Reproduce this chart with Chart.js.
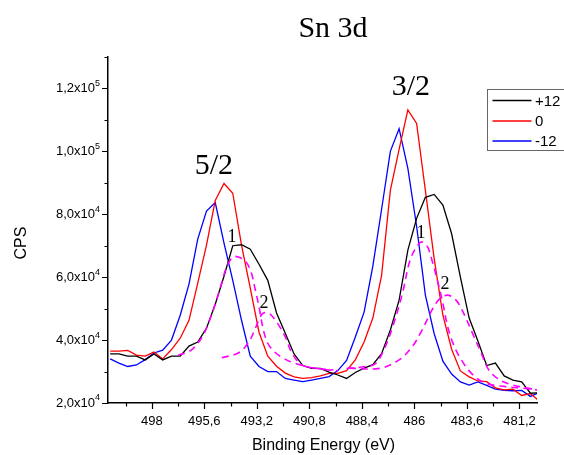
<!DOCTYPE html>
<html>
<head>
<meta charset="utf-8">
<title>Sn 3d</title>
<script src="https://cdn.jsdelivr.net/npm/chart.js@4.4.0/dist/chart.umd.min.js"></script>
<style>
  html, body { margin: 0; padding: 0; background: #fff; }
  #wrap { width: 564px; height: 455px; }
</style>
</head>
<body>
<div id="wrap"><canvas id="xps" width="564" height="455"></canvas></div>
<script>
// binding energies (eV) of the measured points
const energies = [499.9, 499.5, 499.1, 498.7, 498.3, 497.9, 497.5, 497.1, 496.7, 496.3,
  495.9, 495.5, 495.1, 494.7, 494.3, 493.9, 493.5, 493.1, 492.7, 492.3,
  491.9, 491.5, 491.1, 490.7, 490.3, 489.9, 489.5, 489.1, 488.7, 488.3,
  487.9, 487.5, 487.1, 486.7, 486.3, 485.9, 485.5, 485.1, 484.7, 484.3,
  483.9, 483.5, 483.1, 482.7, 482.3, 481.9, 481.5, 481.1, 480.7, 480.3]

// counts per second for each sample
const plus12 = [35600, 35600, 34900, 34900, 33700, 35600, 33700, 34900, 34900, 38100,
  39400, 43800, 51400, 60300, 70000, 70300, 68900, 64100, 59000, 48600,
  42200, 35600, 31900, 31000, 31000, 29800, 28900, 27800, 29700, 31100,
  32200, 35700, 43200, 52700, 68600, 78700, 85400, 86300, 82900, 73800,
  60000, 47000, 39700, 31900, 32700, 28600, 27300, 26700, 23100, 23300]
const zero = [36500, 36500, 36700, 35200, 34900, 36200, 34000, 37000, 40600, 46300,
  58100, 70200, 84400, 89800, 86700, 70200, 56500, 42500, 34900, 31700,
  29500, 28300, 27800, 28100, 28600, 29400, 29400, 30300, 33700, 39400,
  47000, 60600, 87600, 100600, 113200, 108900, 87600, 66000, 47900, 37100,
  30200, 28300, 27000, 26800, 24800, 24200, 24400, 22400, 23000, 20600]
const minus12 = [34000, 32700, 31600, 32100, 33800, 35900, 36800, 40000, 47900, 57800,
  72100, 81000, 83700, 70800, 59000, 46300, 34900, 31600, 30000, 30000,
  27800, 27300, 26800, 27300, 27800, 28400, 30300, 33500, 41000, 48900,
  63500, 81600, 100000, 107200, 94600, 76200, 54300, 42100, 33300, 29200,
  26700, 25700, 26700, 25600, 24400, 24000, 23900, 24000, 22100, 23300]

// fitted components of the +12 spectrum (3d5/2 and 3d3/2, peaks 1 and 2)
const fit52pk1E = [496.8, 496.2, 495.7, 495.3, 494.9, 494.6, 494.3, 494.05, 493.7, 493.45,
  493.3, 493.1, 492.9, 492.7, 492.4, 492.0, 491.5, 490.6, 489.7]
const fit52pk1Y = [35200, 36800, 41000, 47400, 55900, 62900, 66400, 66400, 64900, 61300,
  56900, 50600, 43200, 39000, 36300, 34300, 32700, 31100, 30500]
const fit52pk2E = [494.8, 494.05, 493.6, 493.3, 493.05, 492.9, 492.65, 492.3, 491.9, 491.6,
  491.15, 490.55, 489.9, 489.5]
const fit52pk2Y = [34400, 35900, 39000, 43200, 47300, 48600, 48600, 45800, 41000, 35900,
  32100, 31100, 30500, 30300]
const fit32pk1E = [489.1, 488.3, 487.8, 487.4, 487.0, 486.55, 486.2, 485.85, 485.65, 485.4,
  485.2, 484.95, 484.7, 484.5, 484.25, 483.9, 483.35, 482.75, 481.85, 481.2, 480.3]
const fit32pk1Y = [31000, 31500, 32400, 36800, 44100, 54800, 65400, 70200, 71200, 69600,
  65400, 59000, 51700, 44800, 39200, 34200, 29100, 26300, 25200, 24800, 24100]
const fit32pk2E = [489.0, 487.6, 486.7, 486.1, 485.65, 485.2, 484.9, 484.5, 484.1, 483.75,
  483.35, 482.95, 482.6, 482.1, 481.5, 480.9, 480.3]
const fit32pk2Y = [31100, 31000, 33700, 37900, 43200, 49500, 52700, 54300, 52700, 48500,
  42200, 35900, 30500, 27300, 25700, 24800, 24100]

const seriesNames = ['+12', '0', '-12']

// axis ticks
const xMajor = [498, 495.6, 493.2, 490.8, 488.4, 486, 483.6, 481.2]
const xMinor = [499.2, 496.8, 494.4, 492, 489.6, 487.2, 484.8, 482.4]
const yMajor = [20000, 40000, 60000, 80000, 100000, 120000]
const yMinor = [30000, 50000, 70000, 90000, 110000, 130000]
const yMantissa = ['2,0', '4,0', '6,0', '8,0', '1,0', '1,2']
const yExponent = ['4', '4', '4', '4', '5', '5']

const SANS = '"Liberation Sans", Arial, sans-serif'
const SERIF = '"Liberation Serif", "Times New Roman", serif'

function pairs (xs, ys) {
  return xs.map((x, i) => ({ x, y: ys[i] }))
}

function solid (label, values, color, order) {
  return {
    label,
    data: pairs(energies, values),
    borderColor: color,
    borderWidth: 1.3,
    pointRadius: 0,
    tension: 0,
    order
  }
}

function dashed (xs, ys) {
  return {
    label: 'fit',
    data: pairs(xs, ys),
    borderColor: '#ff00ff',
    borderWidth: 1.6,
    borderDash: [7, 5],
    pointRadius: 0,
    tension: 0.35,
    order: 0
  }
}

// text, ticks, and the boxed legend drawn on top of the chart
const decorations = {
  id: 'decorations',
  afterDraw (chart) {
    const { ctx, chartArea, scales } = chart
    const x = scales.x
    const y = scales.y
    ctx.save()
    ctx.fillStyle = '#000'
    ctx.strokeStyle = '#000'

    // tick marks, pointing outwards
    ctx.lineWidth = 1.2
    ctx.beginPath()
    xMajor.forEach(v => { const p = Math.round(x.getPixelForValue(v)) + 0.5; ctx.moveTo(p, chartArea.bottom); ctx.lineTo(p, chartArea.bottom + 6) })
    xMinor.forEach(v => { const p = Math.round(x.getPixelForValue(v)) + 0.5; ctx.moveTo(p, chartArea.bottom); ctx.lineTo(p, chartArea.bottom + 3.5) })
    yMajor.forEach(v => { const p = Math.round(y.getPixelForValue(v)) + 0.5; ctx.moveTo(chartArea.left, p); ctx.lineTo(chartArea.left - 6, p) })
    yMinor.forEach(v => { const p = Math.round(y.getPixelForValue(v)) + 0.5; ctx.moveTo(chartArea.left, p); ctx.lineTo(chartArea.left - 3.5, p) })
    ctx.stroke()

    // y tick labels with a raised exponent
    ctx.textBaseline = 'middle'
    ctx.textAlign = 'right'
    yMajor.forEach((v, i) => {
      const p = y.getPixelForValue(v)
      const right = chartArea.left - 8
      ctx.font = '9px ' + SANS
      const ew = ctx.measureText(yExponent[i]).width
      ctx.fillText(yExponent[i], right, p - 5)
      ctx.font = '13px ' + SANS
      ctx.fillText(yMantissa[i] + 'x10', right - ew, p)
    })

    // axis titles
    ctx.textAlign = 'center'
    ctx.font = '16px ' + SANS
    ctx.fillText('Binding Energy (eV)', (chartArea.left + chartArea.right) / 2 + 1, 446)
    ctx.save()
    ctx.translate(22, 243)
    ctx.rotate(-Math.PI / 2)
    ctx.fillText('CPS', 0, 0)
    ctx.restore()

    // title and peak labels
    ctx.textBaseline = 'alphabetic'
    ctx.font = '30px ' + SERIF
    ctx.fillText('Sn 3d', 333, 37)
    ctx.fillText('5/2', x.getPixelForValue(495.16), y.getPixelForValue(92800))
    ctx.fillText('3/2', x.getPixelForValue(486.16), y.getPixelForValue(117900))
    ctx.font = '18px ' + SERIF
    ctx.fillText('1', x.getPixelForValue(494.34), y.getPixelForValue(71200))
    ctx.fillText('2', x.getPixelForValue(492.87), y.getPixelForValue(50200))
    ctx.fillText('1', x.getPixelForValue(485.7), y.getPixelForValue(72500))
    ctx.fillText('2', x.getPixelForValue(484.6), y.getPixelForValue(56200))

    // legend box
    ctx.strokeStyle = '#666'
    ctx.lineWidth = 1
    ctx.strokeRect(487.5, 89.5, 90, 61)
    const colors = ['#000000', '#ff0000', '#0000ff']
    const rows = [100.5, 121, 141]
    ctx.font = '15px ' + SANS
    ctx.textAlign = 'left'
    ctx.textBaseline = 'middle'
    seriesNames.forEach((name, i) => {
      ctx.strokeStyle = colors[i]
      ctx.lineWidth = 1.5
      ctx.beginPath()
      ctx.moveTo(492.5, rows[i])
      ctx.lineTo(531.5, rows[i])
      ctx.stroke()
      ctx.fillStyle = '#000'
      ctx.fillText(name, 535, rows[i] + 1)
    })
    ctx.restore()
  }
}

const ctx = document.getElementById('xps').getContext('2d')
const chart = new Chart(ctx, {
  type: 'line',
  data: {
    datasets: [
      solid(seriesNames[0], plus12, '#000000', 1),
      solid(seriesNames[1], zero, '#ff0000', 2),
      solid(seriesNames[2], minus12, '#0000ff', 3),
      dashed(fit52pk1E, fit52pk1Y),
      dashed(fit52pk2E, fit52pk2Y),
      dashed(fit32pk1E, fit32pk1Y),
      dashed(fit32pk2E, fit32pk2Y)
    ]
  },
  options: {
    responsive: false,
    animation: false,
    events: [],
    layout: { padding: { top: 57, right: 27, left: 0, bottom: 0 } },
    plugins: {
      legend: { display: false },
      tooltip: { enabled: false },
      title: { display: false }
    },
    scales: {
      x: {
        type: 'linear',
        reverse: true,
        min: 480.4,
        max: 500,
        grid: { display: false, drawTicks: false },
        border: { display: true, color: '#000', width: 1.5 },
        afterBuildTicks: (scale) => { scale.ticks = xMajor.map(v => ({ value: v })) },
        afterFit: (scale) => { scale.height = 52 },
        ticks: {
          autoSkip: false,
          maxRotation: 0,
          padding: 11,
          color: '#000',
          font: { family: SANS, size: 13 },
          callback: (v) => String(v).replace('.', ',')
        }
      },
      y: {
        type: 'linear',
        min: 20000,
        max: 130000,
        grid: { display: false, drawTicks: false },
        border: { display: true, color: '#000', width: 1.5 },
        afterBuildTicks: (scale) => { scale.ticks = yMajor.map(v => ({ value: v })) },
        afterFit: (scale) => { scale.width = 108 },
        ticks: { display: false }
      }
    }
  },
  plugins: [decorations]
})
</script>
</body>
</html>
